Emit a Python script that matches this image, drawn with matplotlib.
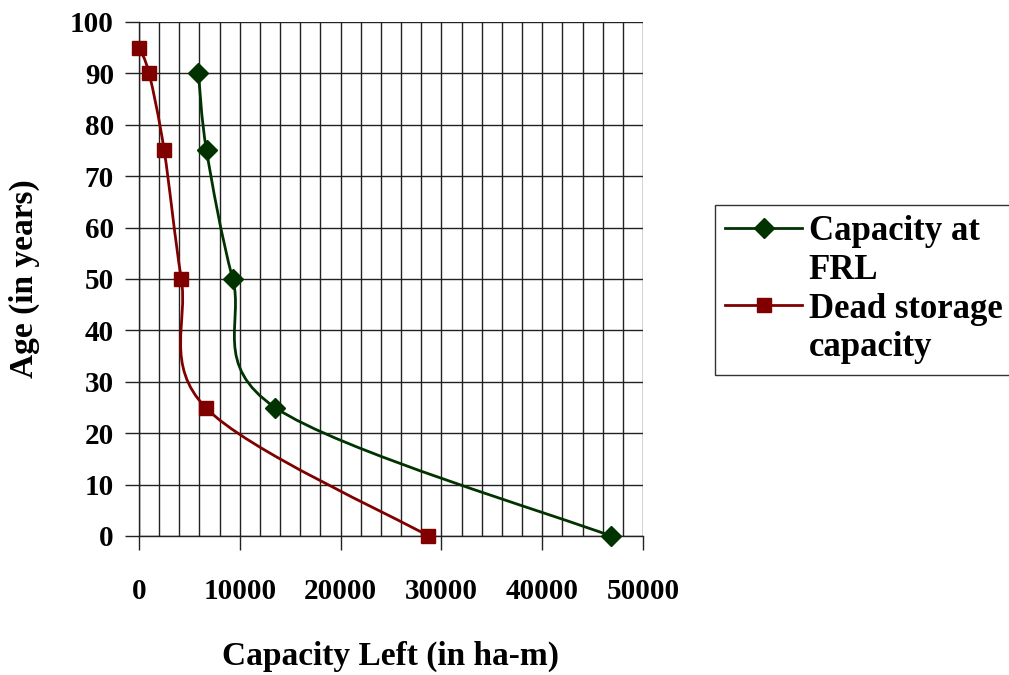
import matplotlib
matplotlib.use("Agg")
import matplotlib.pyplot as plt
from matplotlib.path import Path
from matplotlib.patches import PathPatch
import numpy as np

# Data
series_label_lines = [["Capacity at", "FRL"], ["Dead storage", "capacity"]]
frl_capacity = [46800, 13500, 9300, 6700, 5900]
frl_age = [0, 25, 50, 75, 90]
dead_capacity = [28700, 6600, 4200, 2500, 1000, 0]
dead_age = [0, 25, 50, 75, 90, 95]
x_ticks = [0, 10000, 20000, 30000, 40000, 50000]
y_ticks = [0, 10, 20, 30, 40, 50, 60, 70, 80, 90, 100]

GREEN = "#003300"
RED = "#800000"

plt.rcParams['font.family'] = ['Liberation Serif', 'DejaVu Serif']
plt.rcParams['font.weight'] = 'bold'

fig = plt.figure(figsize=(10.09, 6.75), dpi=100)
ax = fig.add_axes([139/1009, 1-536/675, (643-139)/1009, (536-22)/675])


def smooth_path(xs, ys):
    pts = np.column_stack([xs, ys]).astype(float)
    n = len(pts)
    verts = [pts[0]]
    codes = [Path.MOVETO]
    for i in range(n - 1):
        p0 = pts[i - 1] if i > 0 else pts[i]
        p1 = pts[i]
        p2 = pts[i + 1]
        p3 = pts[i + 2] if i + 2 < n else pts[i + 1]
        c1 = p1 + (p2 - p0) / 6.0
        c2 = p2 - (p3 - p1) / 6.0
        verts += [c1, c2, p2]
        codes += [Path.CURVE4] * 3
    return Path(np.array(verts), codes)


LW = 2.0
for xs, ys, col in [(frl_capacity, frl_age, GREEN), (dead_capacity, dead_age, RED)]:
    patch = PathPatch(smooth_path(xs, ys), facecolor='none', edgecolor=col,
                      linewidth=LW, transform=ax.transData, zorder=3)
    ax.add_patch(patch)

ax.plot(frl_capacity, frl_age, linestyle='none', marker='D', ms=10,
        color=GREEN, zorder=4, clip_on=False)
ax.plot(dead_capacity, dead_age, linestyle='none', marker='s', ms=10,
        color=RED, zorder=4, clip_on=False)

ax.set_xlim(0, 50000)
ax.set_ylim(0, 100)
ax.set_xticks(x_ticks)
ax.set_xticks(np.arange(0, 50001, 2000), minor=True)
ax.set_yticks(y_ticks)
ax.grid(True, which='both', axis='x', color='#222222', linewidth=1.0)
ax.grid(True, which='major', axis='y', color='#222222', linewidth=1.0)
ax.set_axisbelow(True)
for s in ['top', 'right']:
    ax.spines[s].set_visible(False)
for s in ['left', 'bottom']:
    ax.spines[s].set_color('#222222')
    ax.spines[s].set_linewidth(1.0)

ax.tick_params(axis='y', which='major', length=10, width=1.0, pad=8,
               labelsize=21, color='#222222')
ax.tick_params(axis='x', which='major', length=10, width=1.0, pad=20,
               labelsize=21, color='#222222')
ax.tick_params(axis='x', which='minor', length=0)
ax.set_xticklabels([str(v) for v in x_ticks], fontweight='bold')
ax.set_yticklabels([str(v) for v in y_ticks], fontweight='bold')

ax.set_xlabel("Capacity Left (in ha-m)", fontsize=24, fontweight='bold', labelpad=26)
ax.set_ylabel("Age (in years)", fontsize=24, fontweight='bold', labelpad=22)

leg_h1 = plt.Line2D([], [], color=GREEN, lw=LW, marker='D', ms=10)
leg_h2 = plt.Line2D([], [], color=RED, lw=LW, marker='s', ms=10)
blank = plt.Line2D([], [], color='none', lw=0)
handles = [leg_h1, blank, leg_h2, blank]
labels = [series_label_lines[0][0], series_label_lines[0][1],
          series_label_lines[1][0], series_label_lines[1][1]]
leg = fig.legend(handles, labels, loc='upper left',
                 bbox_to_anchor=(715/1009, 1-205/675), fontsize=25,
                 frameon=True, fancybox=False, edgecolor='black',
                 handlelength=2.2, handletextpad=0.2, borderpad=0.3,
                 labelspacing=0.16, borderaxespad=0)
leg.get_frame().set_linewidth(1.0)
for t in leg.get_texts():
    t.set_fontweight('bold')

fig.savefig("out.png", dpi=100)
